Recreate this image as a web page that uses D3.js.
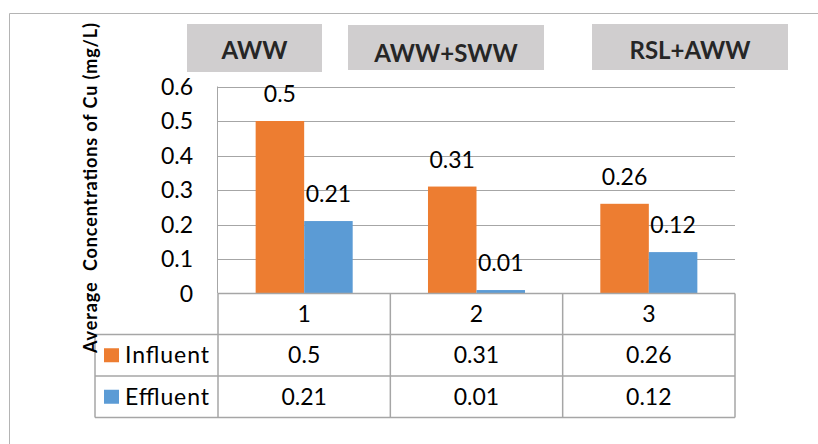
<!DOCTYPE html>
<html>
<head>
<meta charset="utf-8">
<script src="https://cdn.jsdelivr.net/npm/d3@7/dist/d3.min.js"></script>
<style>
  html, body { margin: 0; padding: 0; background: #fff; }
  svg { display: block; font-family: Lato, "Open Sans", sans-serif; }
</style>
</head>
<body>
<svg id="chart" width="818" height="444"></svg>
<script>
// Copper concentrations (mg/L) before and after treatment, per wastewater mix
const categories = ["1", "2", "3"];
const groupTitles = ["AWW", "AWW+SWW", "RSL+AWW"];
const seriesNames = ["Influent", "Effluent"];
const influent = [0.5, 0.31, 0.26];
const effluent = [0.21, 0.01, 0.12];
const yTicks = [0, 0.1, 0.2, 0.3, 0.4, 0.5, 0.6];
const yTitle = "Average\u00a0 Concentrations of Cu (mg/L)";

const colors = { Influent: "#ED7D31", Effluent: "#5B9BD5" };
const seriesValues = { Influent: influent, Effluent: effluent };

const svg = d3.select("#chart");
const gridColor = "#a6a6a6";

// Outer chart frame (open on the right and bottom edges)
svg.append("path")
  .attr("d", "M9.5,444 V13.5 H818")
  .attr("fill", "none").attr("stroke", "#b4b4b4").attr("stroke-width", 1);

const plotLeft = 218, plotRight = 735;
const y = d3.scaleLinear().domain([0, 0.6]).range([293.5, 86.5]);
const x = d3.scaleBand().domain(categories).range([plotLeft, plotRight]).padding(0);
const xs = d3.scaleBand().domain(seriesNames).range([0, x.bandwidth()])
  .paddingInner(0).paddingOuter(0.776);

// Horizontal gridlines
svg.append("g").selectAll("line").data(yTicks.filter(d => d > 0)).join("line")
  .attr("x1", plotLeft).attr("x2", plotRight)
  .attr("y1", d => Math.round(y(d)) + 0.5).attr("y2", d => Math.round(y(d)) + 0.5)
  .attr("stroke", gridColor).attr("stroke-width", 1);

// Vertical value axis line
svg.append("line")
  .attr("x1", plotLeft - 0.5).attr("x2", plotLeft - 0.5)
  .attr("y1", y(0.6)).attr("y2", y(0))
  .attr("stroke", gridColor);

// Y tick labels
svg.append("g").selectAll("text").data(yTicks).join("text")
  .attr("x", 193).attr("y", d => y(d))
  .attr("dy", "0.35em")
  .attr("text-anchor", "end")
  .attr("font-size", 23).attr("fill", "#000")
  .text(d => d3.format("")(d));

// Bars
const groups = svg.append("g").selectAll("g").data(categories).join("g")
  .attr("transform", c => `translate(${x(c)},0)`);

groups.selectAll("rect")
  .data((c, i) => seriesNames.map(s => ({ s, v: seriesValues[s][i] })))
  .join("rect")
  .attr("x", d => xs(d.s))
  .attr("width", xs.bandwidth())
  .attr("y", d => y(d.v))
  .attr("height", d => y(0) - y(d.v))
  .attr("fill", d => colors[d.s]);

// Value labels above bars
groups.selectAll("text.val")
  .data((c, i) => seriesNames.map(s => ({ s, v: seriesValues[s][i] })))
  .join("text")
  .attr("class", "val")
  .attr("x", d => xs(d.s) + xs.bandwidth() / 2)
  .attr("y", d => y(d.v) - 19)
  .attr("text-anchor", "middle")
  .attr("font-size", 23).attr("fill", "#000")
  .text(d => d.v);

// Data table beneath the plot
const rowTop = 293.5, rowH = [41, 41.5, 41.5];
const rowY = [rowTop, rowTop + rowH[0], rowTop + rowH[0] + rowH[1], rowTop + rowH[0] + rowH[1] + rowH[2]];
const tableLeft = 95;
const table = svg.append("g").attr("stroke", gridColor).attr("stroke-width", 1.5).attr("fill", "none");

// top edge of category row (axis baseline)
table.append("line").attr("x1", plotLeft).attr("x2", plotRight).attr("y1", rowY[0]).attr("y2", rowY[0]);
// rows under categories
[1, 2, 3].forEach(r => {
  table.append("line").attr("x1", tableLeft).attr("x2", plotRight).attr("y1", rowY[r]).attr("y2", rowY[r]);
});
// column separators
[plotLeft, ...categories.map(c => x(c) + x.bandwidth())].forEach(xx => {
  table.append("line").attr("x1", xx).attr("x2", xx).attr("y1", rowY[0]).attr("y2", rowY[3]);
});
table.append("line").attr("x1", tableLeft).attr("x2", tableLeft).attr("y1", rowY[1]).attr("y2", rowY[3]);

// category labels
svg.append("g").selectAll("text").data(categories).join("text")
  .attr("x", c => x(c) + x.bandwidth() / 2)
  .attr("y", (rowY[0] + rowY[1]) / 2).attr("dy", "0.35em")
  .attr("text-anchor", "middle").attr("font-size", 23).attr("fill", "#000")
  .text(c => c);

// series rows: legend key + values
seriesNames.forEach((s, si) => {
  const cy = (rowY[si + 1] + rowY[si + 2]) / 2;
  svg.append("rect")
    .attr("x", 104).attr("y", cy - 7).attr("width", 15).attr("height", 14)
    .attr("fill", colors[s]);
  svg.append("text")
    .attr("x", 125).attr("y", cy).attr("dy", "0.35em")
    .attr("font-size", 23).attr("fill", "#000")
    .attr("textLength", 84).attr("lengthAdjust", "spacing")
    .text(s);
  svg.append("g").selectAll("text").data(seriesValues[s]).join("text")
    .attr("x", (d, i) => x(categories[i]) + x.bandwidth() / 2)
    .attr("y", cy).attr("dy", "0.35em")
    .attr("text-anchor", "middle").attr("font-size", 23).attr("fill", "#000")
    .text(d => d);
});

// Group title boxes above the plot
const boxes = [
  { x0: 187, x1: 322, y0: 24, y1: 72, ty: 51 },
  { x0: 348, x1: 544, y0: 25, y1: 70, ty: 53.5 },
  { x0: 592, x1: 788, y0: 24, y1: 70, ty: 51 }
];
const titleG = svg.append("g");
groupTitles.forEach((t, i) => {
  const b = boxes[i];
  titleG.append("rect")
    .attr("x", b.x0).attr("y", b.y0).attr("width", b.x1 - b.x0).attr("height", b.y1 - b.y0)
    .attr("fill", "#d0cecf");
  titleG.append("text")
    .attr("x", (b.x0 + b.x1) / 2).attr("y", b.ty).attr("dy", "0.35em")
    .attr("text-anchor", "middle").attr("font-size", 24).attr("font-weight", "bold")
    .attr("fill", "#262626")
    .text(t);
});

// Y axis title
svg.append("text")
  .attr("transform", "translate(91,188) rotate(-90)")
  .attr("text-anchor", "middle").attr("dy", "0.35em")
  .attr("font-size", 18).attr("font-weight", "bold").attr("fill", "#000")
  .attr("textLength", 330).attr("lengthAdjust", "spacing")
  .text(yTitle);
</script>
</body>
</html>
